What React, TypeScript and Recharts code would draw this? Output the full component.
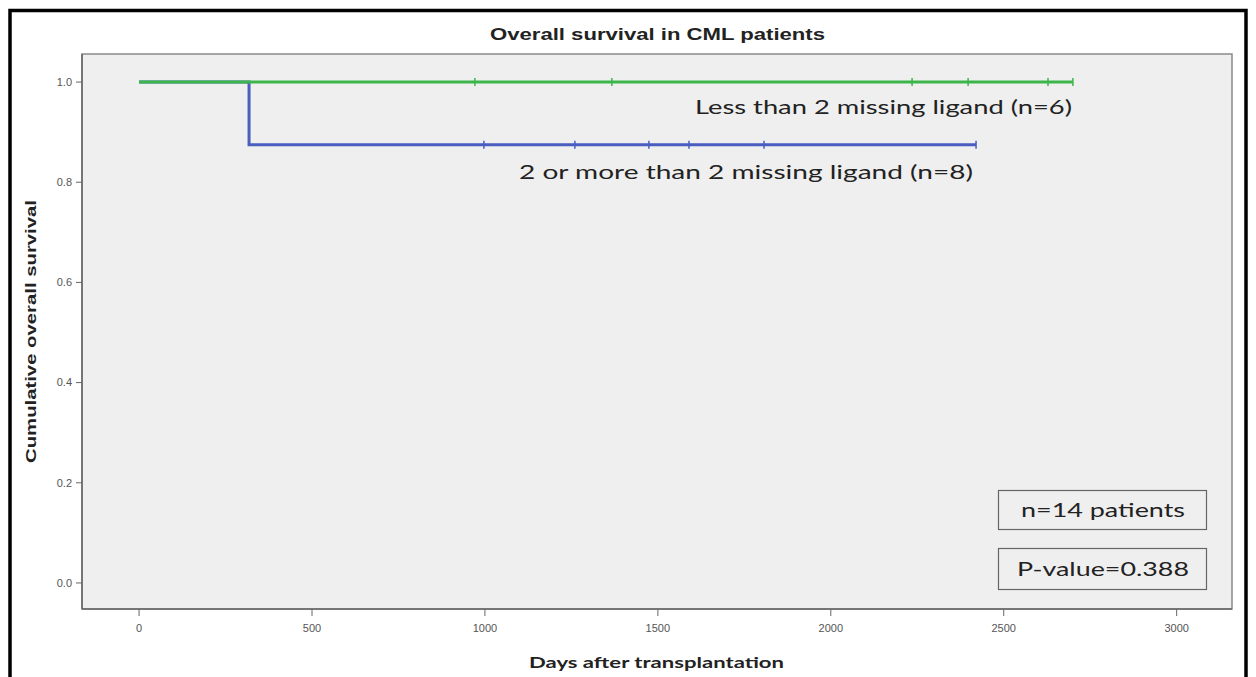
import React from 'react';
import { LineChart, Line, XAxis, YAxis, ReferenceArea } from 'recharts';

// Kaplan-Meier curves (days, survival, censored?)
const greenDays = [0, 971, 1367, 2235, 2397, 2628, 2700];
const greenSurv = [1, 1, 1, 1, 1, 1, 1];
const greenCensored = [false, true, true, true, true, true, true];

const blueDays = [0, 318, 997, 1260, 1474, 1590, 1807, 2420];
const blueSurv = [1, 0.875, 0.875, 0.875, 0.875, 0.875, 0.875, 0.875];
const blueCensored = [false, false, true, true, true, true, true, true];

const xTicks = [0, 500, 1000, 1500, 2000, 2500, 3000];
const yTicks = [0, 0.2, 0.4, 0.6, 0.8, 1.0];

const title = 'Overall survival in CML patients';
const xLabel = 'Days after transplantation';
const yLabel = 'Cumulative overall survival';
const greenName = 'Less than 2 missing ligand (n=6)';
const blueName = '2 or more than 2 missing ligand  (n=8)';
const nText = 'n=14 patients';
const pText = 'P-value=0.388';

const GREEN = '#3cb54a';
const BLUE = '#4a5ec0';

const toRows = (days: number[], surv: number[], cens: boolean[]) =>
  days.map((d, i) => ({ day: d, surv: surv[i], censored: cens[i] }));

const greenData = toRows(greenDays, greenSurv, greenCensored);
const blueData = toRows(blueDays, blueSurv, blueCensored);

const censorDot = (color: string) => (props: any) => {
  const { cx, cy, payload, index } = props;
  if (!payload || !payload.censored) return <g key={`n-${index}`} />;
  return (
    <line key={`c-${index}`} x1={cx} x2={cx} y1={cy - 4} y2={cy + 4} stroke={color} strokeWidth={1.5} />
  );
};

const tickFont = '"Liberation Sans Narrow", "Liberation Sans", Arial, sans-serif';
const calibriLike = 'Lato, "Open Sans", sans-serif';

export default function App() {
  return (
    <div style={{ position: 'absolute', left: 0, top: 0, width: 1256, height: 677, background: '#fff', overflow: 'hidden' }}>
      <LineChart width={1256} height={677} margin={{ top: 54, right: 24, bottom: 18, left: 42 }}>
        <ReferenceArea
          x1={-165}
          x2={3160}
          y1={-0.052}
          y2={1.056}
          fill="#efefef"
          fillOpacity={1}
          stroke="#8a8a8a"
          strokeWidth={1.5}
        />
        <XAxis
          dataKey="day"
          type="number"
          domain={[-165, 3160]}
          ticks={xTicks}
          allowDataOverflow
          height={50}
          axisLine={{ stroke: '#666', strokeWidth: 1.5 }}
          tickLine={{ stroke: '#666' }}
          tickSize={7}
          tickMargin={8}
          tick={{ fill: '#555', fontSize: 11, fontFamily: tickFont }}
        />
        <YAxis
          type="number"
          domain={[-0.052, 1.056]}
          ticks={yTicks}
          allowDataOverflow
          width={40}
          axisLine={{ stroke: '#666', strokeWidth: 1.5 }}
          tickLine={{ stroke: '#666' }}
          tickSize={6}
          tickMargin={4}
          tickFormatter={(v: number) => v.toFixed(1)}
          tick={{ fill: '#555', fontSize: 11, fontFamily: tickFont }}
        />
        <Line
          data={blueData}
          dataKey="surv"
          type="stepAfter"
          stroke={BLUE}
          strokeWidth={3}
          dot={censorDot(BLUE)}
          activeDot={false}
          isAnimationActive={false}
        />
        <Line
          data={greenData}
          dataKey="surv"
          type="stepAfter"
          stroke={GREEN}
          strokeWidth={3}
          dot={censorDot(GREEN)}
          activeDot={false}
          isAnimationActive={false}
        />
      </LineChart>

      <svg width={1256} height={677} style={{ position: 'absolute', left: 0, top: 0, pointerEvents: 'none' }}>
        <rect x={10} y={10.5} width={1236} height={700} fill="none" stroke="#000" strokeWidth={3.5} />
        <text x={490} y={40} textLength={335} lengthAdjust="spacingAndGlyphs" fontSize={16} fontWeight="bold" fontFamily='"Liberation Sans", Arial, sans-serif' fill="#222">
          {title}
        </text>
        <text x={529} y={668} textLength={255} lengthAdjust="spacingAndGlyphs" fontSize={16} fontWeight="bold" fontFamily={calibriLike} fill="#222">
          {xLabel}
        </text>
        <text
          transform="translate(36, 463) rotate(-90)"
          x={0}
          y={0}
          textLength={263}
          lengthAdjust="spacingAndGlyphs"
          fontSize={15}
          fontWeight="bold"
          fontFamily='"Liberation Sans", Arial, sans-serif'
          fill="#222"
        >
          {yLabel}
        </text>
        <text x={695} y={114} textLength={377} lengthAdjust="spacingAndGlyphs" fontSize={19} fontFamily={calibriLike} fill="#222">
          {greenName}
        </text>
        <text x={519} y={179} textLength={454} lengthAdjust="spacingAndGlyphs" fontSize={19} fontFamily={calibriLike} fill="#222">
          {blueName}
        </text>
        <rect x={998.5} y={490.5} width={208} height={39} fill="none" stroke="#666" strokeWidth={1.2} />
        <rect x={998.5} y={548.5} width={208} height={41} fill="none" stroke="#666" strokeWidth={1.2} />
        <text x={1021} y={517} textLength={164} lengthAdjust="spacingAndGlyphs" fontSize={19} fontFamily={calibriLike} fill="#222">
          {nText}
        </text>
        <text x={1017} y={576} textLength={172} lengthAdjust="spacingAndGlyphs" fontSize={19} fontFamily={calibriLike} fill="#222">
          {pText}
        </text>
      </svg>
    </div>
  );
}
